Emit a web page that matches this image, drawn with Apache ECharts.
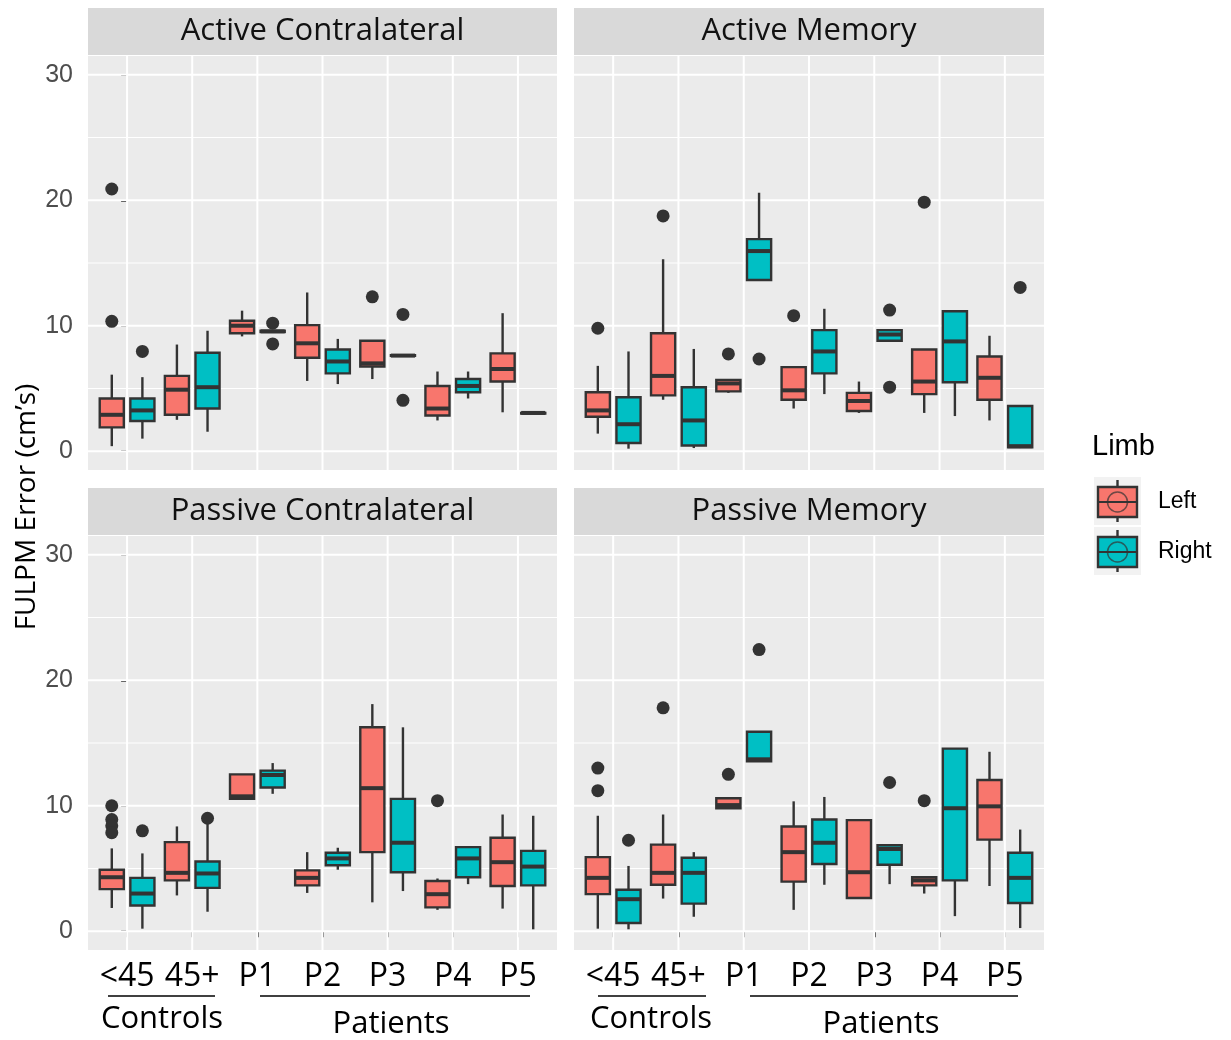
<!DOCTYPE html>
<html>
<head>
<meta charset="utf-8">
<script src="https://cdn.jsdelivr.net/npm/echarts@6/dist/echarts.min.js"></script>
<style>
  html, body { margin: 0; padding: 0; background: #ffffff; }
  #chart { width: 1231px; height: 1040px; }
</style>
</head>
<body>
<div id="chart"></div>
<script>
// Groups along the x axis and facet titles
const CATEGORIES = ['<45', '45+', 'P1', 'P2', 'P3', 'P4', 'P5'];
const FACETS = ['Active Contralateral', 'Active Memory', 'Passive Contralateral', 'Passive Memory'];
const Y_TICKS = [0, 10, 20, 30];
const Y_MINOR = [5, 15, 25];

// Box statistics per group: [lower whisker, Q1, median, Q3, upper whisker]
const activeContraLeft = [
  [0.4, 1.9, 2.9, 4.2, 6.1],
  [2.5, 2.9, 4.9, 6.0, 8.5],
  [9.15, 9.4, 10.0, 10.4, 11.2],
  [5.6, 7.45, 8.6, 10.05, 12.65],
  [5.75, 6.75, 7.0, 8.8, 8.8],
  [2.45, 2.85, 3.4, 5.2, 6.35],
  [3.1, 5.55, 6.55, 7.8, 11.0]
];
const activeContraRight = [
  [1.0, 2.4, 3.25, 4.2, 5.9],
  [1.55, 3.4, 5.1, 7.85, 9.6],
  [9.5, 9.5, 9.55, 9.6, 9.6],
  [5.35, 6.2, 7.15, 8.1, 8.95],
  [7.6, 7.6, 7.62, 7.65, 7.65],
  [4.2, 4.7, 5.2, 5.75, 6.35],
  [3.0, 3.0, 3.05, 3.05, 3.1]
];
const activeMemoryLeft = [
  [1.4, 2.75, 3.25, 4.7, 6.8],
  [4.1, 4.45, 6.0, 9.4, 15.3],
  [4.65, 4.77, 5.4, 5.68, 5.68],
  [3.4, 4.1, 4.85, 6.7, 6.7],
  [3.05, 3.2, 4.0, 4.65, 5.55],
  [3.05, 4.55, 5.55, 8.1, 8.1],
  [2.45, 4.1, 5.85, 7.55, 9.2]
];
const activeMemoryRight = [
  [0.2, 0.65, 2.15, 4.3, 7.95],
  [0.25, 0.45, 2.45, 5.1, 8.15],
  [13.65, 13.65, 15.95, 16.9, 20.6],
  [4.55, 6.2, 7.95, 9.65, 11.35],
  [8.8, 8.8, 9.3, 9.65, 9.65],
  [2.8, 5.5, 8.75, 11.15, 11.15],
  [0.25, 0.3, 0.4, 3.6, 3.6]
];
const passiveContraLeft = [
  [1.85, 3.35, 4.3, 4.9, 6.6],
  [2.85, 4.05, 4.65, 7.1, 8.35],
  [10.5, 10.55, 10.75, 12.5, 12.5],
  [3.05, 3.65, 4.25, 4.85, 6.3],
  [2.3, 6.3, 11.4, 16.25, 18.1],
  [1.7, 1.9, 2.95, 4.0, 4.2],
  [1.8, 3.6, 5.5, 7.45, 9.3]
];
const passiveContraRight = [
  [0.2, 2.05, 3.0, 4.25, 6.2],
  [1.55, 3.45, 4.6, 5.55, 8.6],
  [10.95, 11.45, 12.45, 12.8, 13.4],
  [4.9, 5.25, 5.8, 6.25, 6.65],
  [3.2, 4.7, 7.05, 10.55, 16.25],
  [3.75, 4.3, 5.8, 6.7, 6.7],
  [0.15, 3.65, 5.15, 6.4, 9.2]
];
const passiveMemoryLeft = [
  [0.2, 2.95, 4.25, 5.9, 9.2],
  [2.6, 3.7, 4.65, 6.9, 9.3],
  [9.8, 9.8, 10.05, 10.6, 10.6],
  [1.7, 3.95, 6.3, 8.35, 10.35],
  [2.65, 2.65, 4.7, 8.85, 8.85],
  [3.0, 3.65, 4.05, 4.3, 4.3],
  [3.6, 7.3, 9.95, 12.05, 14.3]
];
const passiveMemoryRight = [
  [0.15, 0.65, 2.55, 3.3, 5.2],
  [1.15, 2.2, 4.65, 5.85, 6.3],
  [13.55, 13.55, 13.7, 15.9, 15.9],
  [3.7, 5.35, 7.05, 8.9, 10.7],
  [3.75, 5.3, 6.55, 6.85, 6.85],
  [1.2, 4.05, 9.8, 14.55, 14.55],
  [0.25, 2.25, 4.25, 6.25, 8.1]
];

// Outlying observations: [group index, value]
const activeContraLeftOut = [[0, 20.9], [0, 10.35], [4, 12.3]];
const activeContraRightOut = [[0, 7.95], [2, 10.2], [2, 8.55], [4, 10.9], [4, 4.05]];
const activeMemoryLeftOut = [[0, 9.8], [1, 18.75], [2, 7.75], [3, 10.8], [5, 19.85]];
const activeMemoryRightOut = [[2, 7.35], [4, 11.25], [4, 5.1], [6, 13.05]];
const passiveContraLeftOut = [[0, 10.0], [0, 8.9], [0, 8.4], [0, 7.85], [5, 10.4]];
const passiveContraRightOut = [[0, 8.0], [1, 9.0]];
const passiveMemoryLeftOut = [[0, 13.0], [0, 11.2], [1, 17.8], [2, 12.5], [5, 10.4]];
const passiveMemoryRightOut = [[0, 7.25], [2, 22.45], [4, 11.85]];

const PANELS = [
  { left: activeContraLeft, right: activeContraRight, leftOut: activeContraLeftOut, rightOut: activeContraRightOut },
  { left: activeMemoryLeft, right: activeMemoryRight, leftOut: activeMemoryLeftOut, rightOut: activeMemoryRightOut },
  { left: passiveContraLeft, right: passiveContraRight, leftOut: passiveContraLeftOut, rightOut: passiveContraRightOut },
  { left: passiveMemoryLeft, right: passiveMemoryRight, leftOut: passiveMemoryLeftOut, rightOut: passiveMemoryRightOut }
];

const COLOR_LEFT = '#F8766D';
const COLOR_RIGHT = '#00BFC4';
const INK = '#333333';
const PANEL_BG = '#EBEBEB';
const STRIP_BG = '#D9D9D9';
const DODGE = 0.235;   // horizontal shift of each limb's box from the group centre
const BOX_W = 0.37;    // box width in x units
const LABEL_FONT = '"Open Sans", "Noto Sans", sans-serif';
const PLAIN_FONT = '"Liberation Sans", Arial, sans-serif';

const GRID_POS = [
  { left: 88, top: 56, width: 469, height: 414 },
  { left: 574, top: 56, width: 470, height: 414 },
  { left: 88, top: 536, width: 469, height: 414 },
  { left: 574, top: 536, width: 470, height: 414 }
];

const chart = echarts.init(document.getElementById('chart'), null, { renderer: 'canvas' });

// Panel gridlines: kind 0 = vertical at a group, 1 = major horizontal, 2 = minor horizontal
const gridLineData = [];
CATEGORIES.forEach((c, i) => gridLineData.push([0, i]));
Y_TICKS.forEach(v => gridLineData.push([1, v]));
Y_MINOR.forEach(v => gridLineData.push([2, v]));

function renderGridLine(params, api) {
  const kind = api.value(0);
  const v = api.value(1);
  const cs = params.coordSys;
  if (kind === 0) {
    const x = api.coord([v, 0])[0];
    return { type: 'line', shape: { x1: x, y1: cs.y, x2: x, y2: cs.y + cs.height },
      style: { stroke: '#ffffff', lineWidth: 2 } };
  }
  const y = api.coord([0, v])[1];
  return { type: 'line', shape: { x1: cs.x, y1: y, x2: cs.x + cs.width, y2: y },
    style: { stroke: '#ffffff', lineWidth: kind === 1 ? 2 : 1 } };
}

function makeBoxRenderer(offset, fill) {
  return function (params, api) {
    const xc = api.value(0) + offset;
    const lo = api.value(1), q1 = api.value(2), md = api.value(3), q3 = api.value(4), hi = api.value(5);
    const half = api.size([BOX_W, 0])[0] / 2;
    const pLo = api.coord([xc, lo]);
    const pQ1 = api.coord([xc, q1]);
    const pMd = api.coord([xc, md]);
    const pQ3 = api.coord([xc, q3]);
    const pHi = api.coord([xc, hi]);
    const x = pMd[0];
    const kids = [];
    if (pLo[1] - pQ1[1] > 0.5) {
      kids.push({ type: 'line', shape: { x1: x, y1: pQ1[1], x2: x, y2: pLo[1] }, style: { stroke: INK, lineWidth: 2.4 } });
    }
    if (pQ3[1] - pHi[1] > 0.5) {
      kids.push({ type: 'line', shape: { x1: x, y1: pHi[1], x2: x, y2: pQ3[1] }, style: { stroke: INK, lineWidth: 2.4 } });
    }
    kids.push({ type: 'rect', shape: { x: x - half, y: pQ3[1], width: half * 2, height: Math.max(pQ1[1] - pQ3[1], 0.5) },
      style: { fill: fill, stroke: INK, lineWidth: 2.4 } });
    kids.push({ type: 'line', shape: { x1: x - half, y1: pMd[1], x2: x + half, y2: pMd[1] },
      style: { stroke: INK, lineWidth: 4 } });
    return { type: 'group', children: kids };
  };
}

const grids = [], xAxes = [], yAxes = [], series = [];
PANELS.forEach((panel, i) => {
  const bottomRow = i >= 2;
  const leftCol = i % 2 === 0;
  grids.push(Object.assign({ show: true, backgroundColor: PANEL_BG, borderWidth: 0 }, GRID_POS[i]));
  xAxes.push({
    gridIndex: i, type: 'value', min: -0.6, max: 6.6,
    axisLine: { show: false }, splitLine: { show: false },
    axisTick: { show: bottomRow, customValues: CATEGORIES.map((c, k) => k), length: 6,
      lineStyle: { color: INK, width: 2 } },
    axisLabel: { show: bottomRow, customValues: CATEGORIES.map((c, k) => k),
      formatter: v => CATEGORIES[Math.round(v)], fontSize: 32, color: '#000', margin: 11,
      fontFamily: LABEL_FONT }
  });
  yAxes.push({
    gridIndex: i, type: 'value', min: -1.5, max: 31.5,
    axisLine: { show: false }, splitLine: { show: false },
    axisTick: { show: leftCol, customValues: Y_TICKS, length: 6, lineStyle: { color: INK, width: 2 } },
    axisLabel: { show: leftCol, customValues: Y_TICKS, fontSize: 25, color: '#4D4D4D', margin: 15,
      fontFamily: PLAIN_FONT }
  });
  series.push({
    type: 'custom', name: 'grid' + i, xAxisIndex: i, yAxisIndex: i, z: 1, silent: true,
    renderItem: renderGridLine, data: gridLineData
  });
  series.push({
    type: 'custom', name: 'Left', xAxisIndex: i, yAxisIndex: i, z: 2, silent: true,
    renderItem: makeBoxRenderer(-DODGE, COLOR_LEFT),
    data: panel.left.map((s, k) => [k].concat(s))
  });
  series.push({
    type: 'custom', name: 'Right', xAxisIndex: i, yAxisIndex: i, z: 2, silent: true,
    renderItem: makeBoxRenderer(DODGE, COLOR_RIGHT),
    data: panel.right.map((s, k) => [k].concat(s))
  });
  series.push({
    type: 'scatter', xAxisIndex: i, yAxisIndex: i, z: 3, silent: true,
    symbolSize: 13, itemStyle: { color: INK, opacity: 1 },
    data: panel.leftOut.map(o => [o[0] - DODGE, o[1]])
      .concat(panel.rightOut.map(o => [o[0] + DODGE, o[1]]))
  });
});

// Facet strips, axis title, group brackets and limb legend
const graphics = [];
FACETS.forEach((name, i) => {
  const g = GRID_POS[i];
  const top = i < 2 ? 8 : 488;
  graphics.push({ type: 'rect', left: g.left, top: top, shape: { width: g.width, height: 47 },
    style: { fill: STRIP_BG }, silent: true });
  graphics.push({ type: 'text', x: g.left + g.width / 2, y: top + 23.5,
    style: { text: name, fill: '#111', font: '31px ' + LABEL_FONT, align: 'center', verticalAlign: 'middle' } });
});
graphics.push({ type: 'text', x: 27, y: 507, rotation: Math.PI / 2,
  style: { text: 'FULPM Error (cm\u2019s)', fill: '#000', font: '28px ' + LABEL_FONT, align: 'center', verticalAlign: 'middle' } });

[
  { lines: [[108, 215], [260, 530]], labels: [[162, 'Controls', 1019], [391, 'Patients', 1024]] },
  { lines: [[598, 706], [750, 1018]], labels: [[651, 'Controls', 1019], [881, 'Patients', 1024]] }
].forEach(b => {
  b.lines.forEach(l => graphics.push({ type: 'line', shape: { x1: l[0], y1: 996, x2: l[1], y2: 996 },
    style: { stroke: '#000', lineWidth: 1.5 } }));
  b.labels.forEach(t => graphics.push({ type: 'text', x: t[0], y: t[2],
    style: { text: t[1], fill: '#000', font: '31px ' + LABEL_FONT, align: 'center', verticalAlign: 'middle' } }));
});

graphics.push({ type: 'text', x: 1092, y: 447,
  style: { text: 'Limb', fill: '#000', font: '29px ' + PLAIN_FONT, verticalAlign: 'middle' } });
[['Left', COLOR_LEFT, 477], ['Right', COLOR_RIGHT, 527]].forEach(k => {
  const top = k[2];
  const cx = 1117.5, cy = top + 25;
  graphics.push({ type: 'rect', shape: { x: 1094, y: top, width: 47, height: 48 }, style: { fill: '#F2F2F2' } });
  graphics.push({ type: 'line', shape: { x1: cx, y1: top + 3, x2: cx, y2: top + 45 }, style: { stroke: INK, lineWidth: 2.4 } });
  graphics.push({ type: 'rect', shape: { x: 1098, y: top + 10, width: 39, height: 30 }, style: { fill: k[1], stroke: INK, lineWidth: 2.4 } });
  graphics.push({ type: 'line', shape: { x1: 1098, y1: cy, x2: 1137, y2: cy }, style: { stroke: INK, lineWidth: 2 } });
  graphics.push({ type: 'circle', shape: { cx: cx, cy: cy, r: 10 }, style: { fill: 'none', stroke: 'rgba(51,51,51,0.7)', lineWidth: 1.5 } });
  graphics.push({ type: 'text', x: 1158, y: cy, style: { text: k[0], fill: '#000', font: '23px ' + PLAIN_FONT, verticalAlign: 'middle' } });
});

chart.setOption({
  animation: false,
  backgroundColor: '#ffffff',
  grid: grids,
  xAxis: xAxes,
  yAxis: yAxes,
  series: series,
  graphic: graphics
});
</script>
</body>
</html>
